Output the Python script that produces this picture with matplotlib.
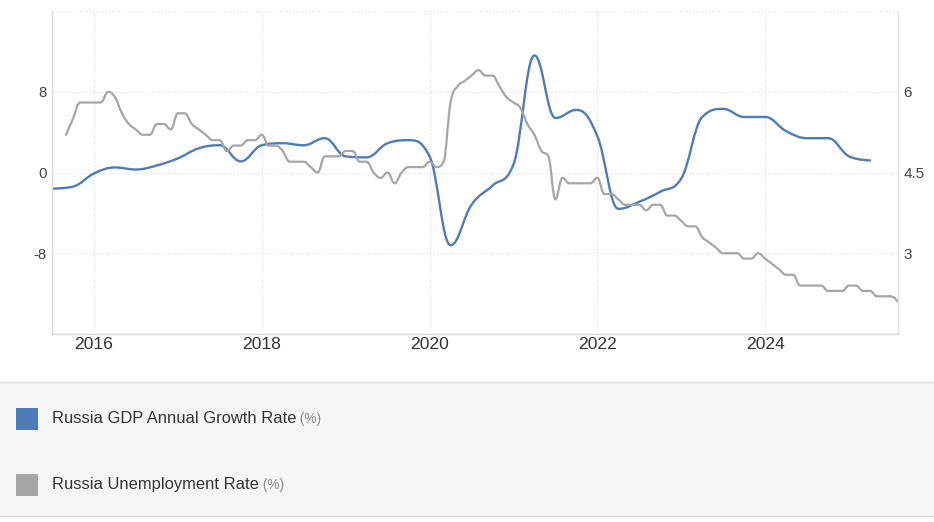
import numpy as np
import pandas as pd
import matplotlib
matplotlib.use("Agg")
import matplotlib.pyplot as plt
from matplotlib.path import Path
from matplotlib.patches import PathPatch, Rectangle
from matplotlib.text import Annotation

plt.rcParams['font.family'] = ['Liberation Sans', 'DejaVu Sans']

# Russia GDP annual growth rate (%), quarterly 2015Q3 .. 2025Q2
gdp_quarters = pd.period_range('2015Q3', '2025Q2', freq='Q')
gdp_growth = [-1.6, -1.4, -0.1, 0.5, 0.3, 0.7, 1.4, 2.4, 2.7, 1.1,
              2.7, 2.9, 2.7, 3.4, 1.6, 1.5, 2.9, 3.2, 1.6, -7.2,
              -3.2, -1.3, 0.8, 11.6, 5.4, 6.2, 3.6, -3.6, -2.9, -1.9,
              -0.6, 5.5, 6.3, 5.5, 5.5, 4.1, 3.4, 3.4, 1.6, 1.2]

# Russia unemployment rate (%), monthly 2015-09 .. 2025-08
unemp_months = pd.period_range('2015-09', '2025-08', freq='M')
unemp_rate = [5.2, 5.5, 5.8, 5.8,
              5.8, 5.8, 6.0, 5.9, 5.6, 5.4, 5.3, 5.2, 5.2, 5.4, 5.4, 5.3,
              5.6, 5.6, 5.4, 5.3, 5.2, 5.1, 5.1, 4.9, 5.0, 5.0, 5.1, 5.1,
              5.2, 5.0, 5.0, 4.9, 4.7, 4.7, 4.7, 4.6, 4.5, 4.8, 4.8, 4.8,
              4.9, 4.9, 4.7, 4.7, 4.5, 4.4, 4.5, 4.3, 4.5, 4.6, 4.6, 4.6,
              4.7, 4.6, 4.7, 5.8, 6.1, 6.2, 6.3, 6.4, 6.3, 6.3, 6.1, 5.9,
              5.8, 5.7, 5.4, 5.2, 4.9, 4.8, 4.0, 4.4, 4.3, 4.3, 4.3, 4.3,
              4.4, 4.1, 4.1, 4.0, 3.9, 3.9, 3.9, 3.8, 3.9, 3.9, 3.7, 3.7,
              3.6, 3.5, 3.5, 3.3, 3.2, 3.1, 3.0, 3.0, 3.0, 2.9, 2.9, 3.0,
              2.9, 2.8, 2.7, 2.6, 2.6, 2.4, 2.4, 2.4, 2.4, 2.3, 2.3, 2.3,
              2.4, 2.4, 2.3, 2.3, 2.2, 2.2, 2.2, 2.1]

year_ticks = [2016, 2018, 2020, 2022, 2024]
gdp_ticks = [-16, -8, 0, 8, 16]
gdp_labels = ['', '-8', '0', '8', '']
unemp_ticks = [3, 4.5, 6]
unemp_labels = ['3', '4.5', '6']

series_names = ['Russia GDP Annual Growth Rate', 'Russia Unemployment Rate']
BLUE = '#4c7dba'
GRAY = '#a6a6a6'


def to_year(periods):
    st = periods.start_time
    return np.asarray(st.year + (st.month - 1) / 12.0, dtype=float)


def spline_path(xs, ys, smoothing=1.5):
    # same control point rule as a highcharts "spline" series
    n = len(xs)
    lc = [(xs[i], ys[i]) for i in range(n)]
    rc = list(lc)
    d = smoothing + 1
    for i in range(1, n - 1):
        x, y = xs[i], ys[i]
        lx, ly = xs[i - 1], ys[i - 1]
        nx, ny = xs[i + 1], ys[i + 1]
        lcx, lcy = (smoothing * x + lx) / d, (smoothing * y + ly) / d
        rcx, rcy = (smoothing * x + nx) / d, (smoothing * y + ny) / d
        if rcx != lcx:
            corr = (rcy - lcy) * (rcx - x) / (rcx - lcx) + y - rcy
            lcy += corr
            rcy += corr
        if lcy > ly and lcy > y:
            lcy = max(ly, y); rcy = 2 * y - lcy
        elif lcy < ly and lcy < y:
            lcy = min(ly, y); rcy = 2 * y - lcy
        if rcy > ny and rcy > y:
            rcy = max(ny, y); lcy = 2 * y - rcy
        elif rcy < ny and rcy < y:
            rcy = min(ny, y); lcy = 2 * y - rcy
        lc[i] = (lcx, lcy)
        rc[i] = (rcx, rcy)
    verts = [(xs[0], ys[0])]
    codes = [Path.MOVETO]
    for i in range(1, n):
        verts += [rc[i - 1], lc[i], (xs[i], ys[i])]
        codes += [Path.CURVE4] * 3
    return Path(verts, codes)


gx = to_year(gdp_quarters)
ux = to_year(unemp_months)

fig = plt.figure(figsize=(9.34, 5.22), dpi=100)
ax = fig.add_axes([52 / 934, 1 - 334 / 522, 846 / 934, 323 / 522])
ax2 = ax.twinx()

ax.add_patch(PathPatch(spline_path(gx, gdp_growth), fill=False, edgecolor=BLUE,
                       lw=1.7, capstyle='round', joinstyle='round'))
ax2.add_patch(PathPatch(spline_path(ux, unemp_rate), fill=False, edgecolor=GRAY,
                        lw=1.6, capstyle='round', joinstyle='round'))

ax.set_xlim(gx[0], ux[-1])
ax.set_ylim(-16, 16)
ax2.set_ylim(1.5, 7.5)

ax.set_xticks(year_ticks)
ax.set_xticklabels([str(y) for y in year_ticks])
ax.set_yticks(gdp_ticks)
ax.set_yticklabels(gdp_labels)
ax2.set_yticks(unemp_ticks)
ax2.set_yticklabels(unemp_labels)

ax.grid(True, color='#e2e2e2', lw=0.9, ls=(0, (1, 1.5)))
ax.set_axisbelow(True)
ax.tick_params(axis='x', length=0, pad=2, labelsize=12.6, labelcolor='#333333')
ax.tick_params(axis='y', length=0, pad=4, labelsize=10.8, labelcolor='#444444')
ax2.tick_params(axis='y', length=0, pad=4, labelsize=11, labelcolor='#444444')

for a in (ax, ax2):
    a.spines['top'].set_visible(False)
    a.spines['left'].set_color('#dcdcdc')
    a.spines['right'].set_color('#e4e4e4')
    a.spines['bottom'].set_color('#dcdcdc')
    a.spines['left'].set_linewidth(0.9)
    a.spines['right'].set_linewidth(0.9)
    a.spines['bottom'].set_linewidth(0.9)

# legend panel
fig.patches.append(Rectangle((0, 1 - 516 / 522), 1, 134 / 522, transform=fig.transFigure,
                             facecolor='#f6f6f6', edgecolor='none', zorder=0))
for yy in (382, 516):
    fig.add_artist(plt.Line2D([0, 1], [1 - yy / 522] * 2, transform=fig.transFigure,
                              color='#dddddd', lw=1))

for name, col, yc in zip(series_names, [BLUE, GRAY], [418.5, 484.5]):
    fig.patches.append(Rectangle((16 / 934, 1 - (yc + 11) / 522), 22 / 934, 22 / 522,
                                 transform=fig.transFigure, facecolor=col, edgecolor='none'))
    t = fig.text(52 / 934, 1 - yc / 522, name, fontsize=11.9, color='#333333',
                 ha='left', va='center')
    fig.add_artist(Annotation(' (%)', xy=(1, 0.5), xycoords=t, ha='left', va='center',
                              fontsize=9.8, color='#888888', annotation_clip=False))

fig.savefig('out.png', dpi=100)
